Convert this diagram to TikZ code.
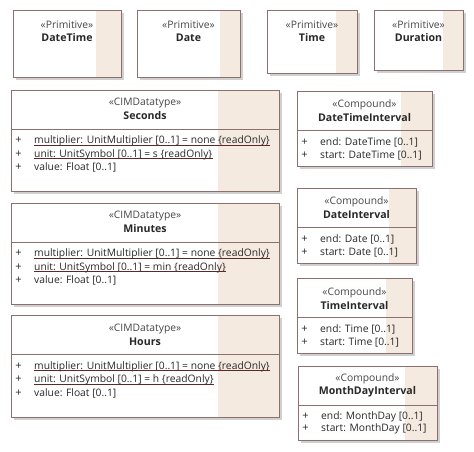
\documentclass[tikz,border=0pt]{standalone}
\usepackage{fontspec}
\setmainfont{Open Sans}
\usetikzlibrary{calc}

\definecolor{framec}{RGB}{140,112,112}
\definecolor{stripc}{RGB}{245,234,224}
\definecolor{shadowc}{RGB}{208,208,208}
\definecolor{textc}{RGB}{40,40,40}
\definecolor{stereoc}{RGB}{70,70,70}
\definecolor{ulc}{RGB}{92,40,40}

\tikzset{
  frame/.style={draw=framec, line width=0.8pt},
  stereo/.style={inner sep=0pt, text=stereoc, font=\fontsize{10.3}{12}\selectfont},
  cname/.style={inner sep=0pt, text=textc, font=\fontsize{10.6}{12}\selectfont\bfseries},
  vis/.style={inner sep=0pt, anchor=base, text=textc, font=\fontsize{11}{12}\selectfont},
  attr/.style={inner sep=0pt, anchor=base west, text=textc, font=\fontsize{10.3}{12}\selectfont},
  uline/.style={draw=ulc, line width=0.75pt},
}

% #1 name, #2 x1, #3 y1, #4 x2, #5 y2, #6 x where the tinted strip starts
\newcommand\umlframe[6]{%
  \fill[shadowc] (#2+3,#3+3) rectangle (#4+3,#5+3);
  \fill[white] (#2,#3) rectangle (#4,#5);
  \fill[stripc] (#6,#3) rectangle (#4,#5);
  \path (#2,#3) coordinate (#1-nw) (#4,#5) coordinate (#1-se);
  \draw[frame] (#1-nw) rectangle (#1-se);
}
% #1 name, #2 x1, #3 y1, #4 x2, #5 stereotype, #6 class name, #7 offset of name
\newcommand\umlhead[7]{%
  \node[stereo] (#1-st) at ({(#2+#4)/2},#3+#7-13) {#5};
  \node[cname] (#1-nm) at ({(#2+#4)/2},#3+#7) {#6};
}
% divider line of the attribute compartment
\newcommand\umldiv[4]{%
  \path (#2,#3+39) coordinate (#1-dl) (#4,#3+39) coordinate (#1-dr);
  \draw[frame] (#1-dl) -- (#1-dr);
}
% #1 node name, #2 x1 of box, #3 baseline y, #4 text
\newcommand\umlattr[4]{%
  \node[vis] (#1-v) at (#2+7.5,#3) {+};
  \node[attr] (#1) at (#2+23,#3) {#4};
}
\newcommand\umlattrul[4]{%
  \umlattr{#1}{#2}{#3}{#4}
  \draw[uline] ([yshift=-1.6pt]#1.base west) -- ([yshift=-1.6pt]#1.base east);
}

\begin{document}
\begin{tikzpicture}[x=1pt,y=-1pt]
\useasboundingbox (0,0) rectangle (474,451);
\fill[white] (0,0) rectangle (474,451);

% primitive types
\umlframe{dt}{13}{10}{121}{77}{96}
\umlhead{dt}{13}{10}{121}{\guillemotleft Primitive\guillemotright}{DateTime}{28}
\umlframe{da}{137}{10}{240}{77}{220}
\umlhead{da}{137}{10}{240}{\guillemotleft Primitive\guillemotright}{Date}{28}
\umlframe{ti}{267}{10}{357}{73}{336}
\umlhead{ti}{267}{10}{357}{\guillemotleft Primitive\guillemotright}{Time}{28}
\umlframe{du}{374}{10}{463}{70}{443}
\umlhead{du}{374}{10}{463}{\guillemotleft Primitive\guillemotright}{Duration}{28}

% CIM datatypes
\umlframe{sec}{11}{90}{279}{191}{218}
\umlhead{sec}{11}{90}{279}{\guillemotleft CIMDatatype\guillemotright}{Seconds}{26}
\umldiv{sec}{11}{90}{279}
\umlattrul{sec-a1}{11}{143.5}{multiplier: UnitMultiplier [0..1] = none \{readOnly\}}
\umlattrul{sec-a2}{11}{157}{unit: UnitSymbol [0..1] = s \{readOnly\}}
\umlattr{sec-a3}{11}{170.5}{value: Float [0..1]}

\umlframe{min}{11}{203}{279}{304}{218}
\umlhead{min}{11}{203}{279}{\guillemotleft CIMDatatype\guillemotright}{Minutes}{26}
\umldiv{min}{11}{203}{279}
\umlattrul{min-a1}{11}{256.5}{multiplier: UnitMultiplier [0..1] = none \{readOnly\}}
\umlattrul{min-a2}{11}{270}{unit: UnitSymbol [0..1] = min \{readOnly\}}
\umlattr{min-a3}{11}{283.5}{value: Float [0..1]}

\umlframe{hr}{11}{315}{279}{417}{218}
\umlhead{hr}{11}{315}{279}{\guillemotleft CIMDatatype\guillemotright}{Hours}{27}
\umldiv{hr}{11}{315}{279}
\umlattrul{hr-a1}{11}{369}{multiplier: UnitMultiplier [0..1] = none \{readOnly\}}
\umlattrul{hr-a2}{11}{382.5}{unit: UnitSymbol [0..1] = h \{readOnly\}}
\umlattr{hr-a3}{11}{396}{value: Float [0..1]}

% compound types
\umlframe{dti}{297}{91}{432}{166}{401}
\umlhead{dti}{297}{91}{432}{\guillemotleft Compound\guillemotright}{DateTimeInterval}{27}
\umldiv{dti}{297}{91}{432}
\umlattr{dti-a1}{297}{145}{end: DateTime [0..1]}
\umlattr{dti-a2}{297}{158}{start: DateTime [0..1]}

\umlframe{di}{297}{188}{416}{263}{389}
\umlhead{di}{297}{188}{416}{\guillemotleft Compound\guillemotright}{DateInterval}{27}
\umldiv{di}{297}{188}{416}
\umlattr{di-a1}{297}{242}{end: Date [0..1]}
\umlattr{di-a2}{297}{255}{start: Date [0..1]}

\umlframe{tint}{297}{278}{412}{353}{386}
\umlhead{tint}{297}{278}{412}{\guillemotleft Compound\guillemotright}{TimeInterval}{28}
\umldiv{tint}{297}{278}{412}
\umlattr{tint-a1}{297}{332}{end: Time [0..1]}
\umlattr{tint-a2}{297}{345}{start: Time [0..1]}

\umlframe{mdi}{298}{366}{437}{440}{405}
\umlhead{mdi}{298}{366}{437}{\guillemotleft Compound\guillemotright}{MonthDayInterval}{26}
\umldiv{mdi}{298}{366}{437}
\umlattr{mdi-a1}{298}{419}{end: MonthDay [0..1]}
\umlattr{mdi-a2}{298}{431.5}{start: MonthDay [0..1]}
\end{tikzpicture}
\end{document}
